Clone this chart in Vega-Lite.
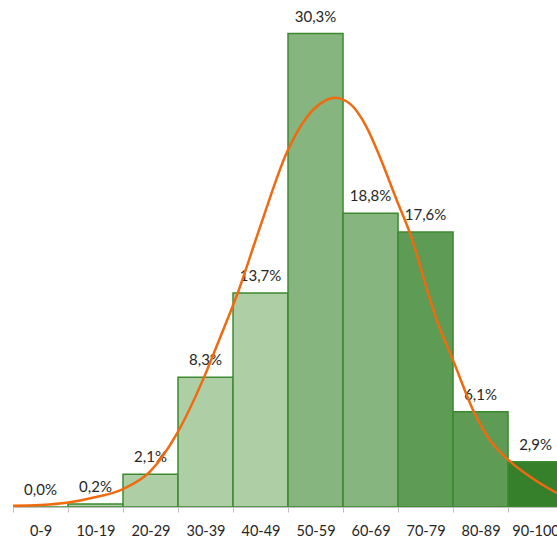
{
  "$schema": "https://vega.github.io/schema/vega-lite/v6.json",
  "width": 544,
  "height": 500,
  "autosize": "none",
  "padding": {"left": 13, "top": 7, "right": 0, "bottom": 30},
  "background": "white",
  "config": {"view": {"stroke": null}, "font": "Lato"},
  "datasets": {
    "bars": [
      {"range": "0-9", "lo": 0, "hi": 10, "mid": 5, "pct": 0.0, "label": "0,0%", "grp": "a"},
      {"range": "10-19", "lo": 10, "hi": 20, "mid": 15, "pct": 0.2, "label": "0,2%", "grp": "a"},
      {"range": "20-29", "lo": 20, "hi": 30, "mid": 25, "pct": 2.1, "label": "2,1%", "grp": "a"},
      {"range": "30-39", "lo": 30, "hi": 40, "mid": 35, "pct": 8.3, "label": "8,3%", "grp": "a"},
      {"range": "40-49", "lo": 40, "hi": 50, "mid": 45, "pct": 13.7, "label": "13,7%", "grp": "a"},
      {"range": "50-59", "lo": 50, "hi": 60, "mid": 55, "pct": 30.3, "label": "30,3%", "grp": "b"},
      {"range": "60-69", "lo": 60, "hi": 70, "mid": 65, "pct": 18.8, "label": "18,8%", "grp": "b"},
      {"range": "70-79", "lo": 70, "hi": 80, "mid": 75, "pct": 17.6, "label": "17,6%", "grp": "c"},
      {"range": "80-89", "lo": 80, "hi": 90, "mid": 85, "pct": 6.1, "label": "6,1%", "grp": "c"},
      {"range": "90-100", "lo": 90, "hi": 100, "mid": 95, "pct": 2.9, "label": "2,9%", "grp": "d"}
    ],
    "curve": [
      {"x": 0, "y": 0.08},
      {"x": 4.9, "y": 0.13},
      {"x": 9.8, "y": 0.27},
      {"x": 14.9, "y": 0.62},
      {"x": 20.0, "y": 1.15},
      {"x": 24.9, "y": 2.26},
      {"x": 29.8, "y": 4.7},
      {"x": 34.6, "y": 8.2},
      {"x": 37.6, "y": 10.8},
      {"x": 40.7, "y": 13.55},
      {"x": 44.9, "y": 17.9},
      {"x": 49.8, "y": 22.7},
      {"x": 53.4, "y": 24.95},
      {"x": 55.8, "y": 25.8},
      {"x": 58.5, "y": 26.2},
      {"x": 61.3, "y": 25.8},
      {"x": 64.3, "y": 24.3},
      {"x": 66.7, "y": 22.4},
      {"x": 69.8, "y": 19.6},
      {"x": 72.2, "y": 17.5},
      {"x": 75.8, "y": 13.3},
      {"x": 77.0, "y": 12.0},
      {"x": 80.0, "y": 9.4},
      {"x": 84.0, "y": 5.93},
      {"x": 86.7, "y": 4.28},
      {"x": 90.4, "y": 2.9},
      {"x": 94.0, "y": 1.94},
      {"x": 98.9, "y": 0.88}
    ]
  },
  "layer": [
    {
      "data": {"name": "bars"},
      "mark": {"type": "rect", "stroke": "#3C8A2F", "strokeWidth": 1.5, "clip": true},
      "encoding": {
        "x": {
          "field": "lo",
          "type": "quantitative",
          "scale": {"domain": [0, 98.9], "nice": false, "zero": false},
          "axis": {
            "values": [5, 15, 25, 35, 45, 55, 65, 75, 85, 95],
            "labelExpr": "['0-9','10-19','20-29','30-39','40-49','50-59','60-69','70-79','80-89','90-100'][floor(datum.value/10)]",
            "title": null,
            "grid": false,
            "tickOffset": -27.2,
            "labelOffset": 27.2,
            "tickSize": 5,
            "tickColor": "#BFBFBF",
            "domainColor": "#BFBFBF",
            "domainWidth": 1,
            "labelFlush": false,
            "labelOverlap": false,
            "labelBound": false,
            "labelPadding": 12,
            "labelFont": "Lato",
            "labelFontSize": 14.5,
            "labelColor": "#262626"
          }
        },
        "x2": {"field": "hi"},
        "y": {
          "field": "pct",
          "type": "quantitative",
          "scale": {"domain": [0, 32], "nice": false},
          "axis": null
        },
        "y2": {"datum": 0},
        "fill": {
          "field": "grp",
          "type": "nominal",
          "scale": {"domain": ["a", "b", "c", "d"], "range": ["#AECFA6", "#86B57F", "#5E9B54", "#367F2B"]},
          "legend": null
        }
      }
    },
    {
      "data": {"name": "bars"},
      "mark": {"type": "text", "baseline": "middle", "dy": -17, "fontSize": 15, "font": "Lato", "color": "#262626"},
      "encoding": {
        "x": {"field": "mid", "type": "quantitative"},
        "y": {"field": "pct", "type": "quantitative"},
        "text": {"field": "label"}
      }
    },
    {
      "data": {"name": "curve"},
      "mark": {"type": "line", "interpolate": "monotone", "color": "#F06A0F", "strokeWidth": 2.5, "clip": true},
      "encoding": {
        "x": {"field": "x", "type": "quantitative"},
        "y": {"field": "y", "type": "quantitative"}
      }
    }
  ]
}
